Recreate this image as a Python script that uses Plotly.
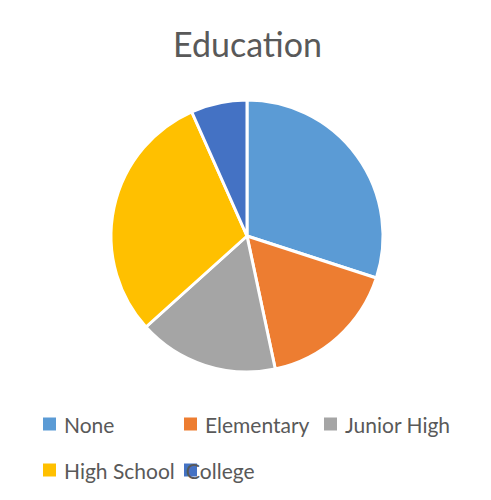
import plotly.graph_objects as go

categories = ["None", "Elementary", "Junior High", "High School", "College"]
values = [9, 5, 5, 9, 2]
colors = ["#5B9BD5", "#ED7D31", "#A5A5A5", "#FFC000", "#4472C4"]
title_text = "Education"

W, H = 491, 500
FONT = "Lato"
TXT = "#595959"

def px(x):
    return x / W

def py(y):
    return 1 - y / H

cx, cy, r = 247, 236, 136

fig = go.Figure(go.Pie(
    labels=categories, values=values, sort=False, direction="clockwise",
    rotation=0, textinfo="none", hoverinfo="label+value+percent",
    marker=dict(colors=colors, line=dict(color="white", width=3)),
    domain=dict(x=[px(cx - r), px(cx + r)], y=[py(cy + r), py(cy - r)]),
    showlegend=False,
))

# title
fig.add_annotation(text=title_text, x=px(cx), y=py(44), xref="paper", yref="paper",
                   xanchor="center", yanchor="middle", showarrow=False,
                   font=dict(family=FONT, size=34, color=TXT))

# manual legend (grid layout like the original)
col_x = [43, 184, 324]
row_y = [424, 470]
sq = 13
for i, (cat, col) in enumerate(zip(categories, colors)):
    x0 = col_x[i % 3]
    yc = row_y[i // 3]
    # College's label starts under its marker, as in the original
    tx = x0 if i == 4 else x0 + 19
    fig.add_annotation(text=cat, x=px(tx), y=py(yc), xref="paper", yref="paper",
                       xanchor="left", yanchor="middle", showarrow=False,
                       font=dict(family=FONT, size=21, color=TXT))
    fig.add_shape(type="rect", xref="paper", yref="paper",
                  x0=px(x0), x1=px(x0 + sq), y0=py(yc + sq / 2), y1=py(yc - sq / 2),
                  fillcolor=col, line=dict(width=0), layer="above")

fig.update_layout(width=W, height=H, margin=dict(l=0, r=0, t=0, b=0),
                  paper_bgcolor="white", plot_bgcolor="white")
fig.write_html("out.html")
